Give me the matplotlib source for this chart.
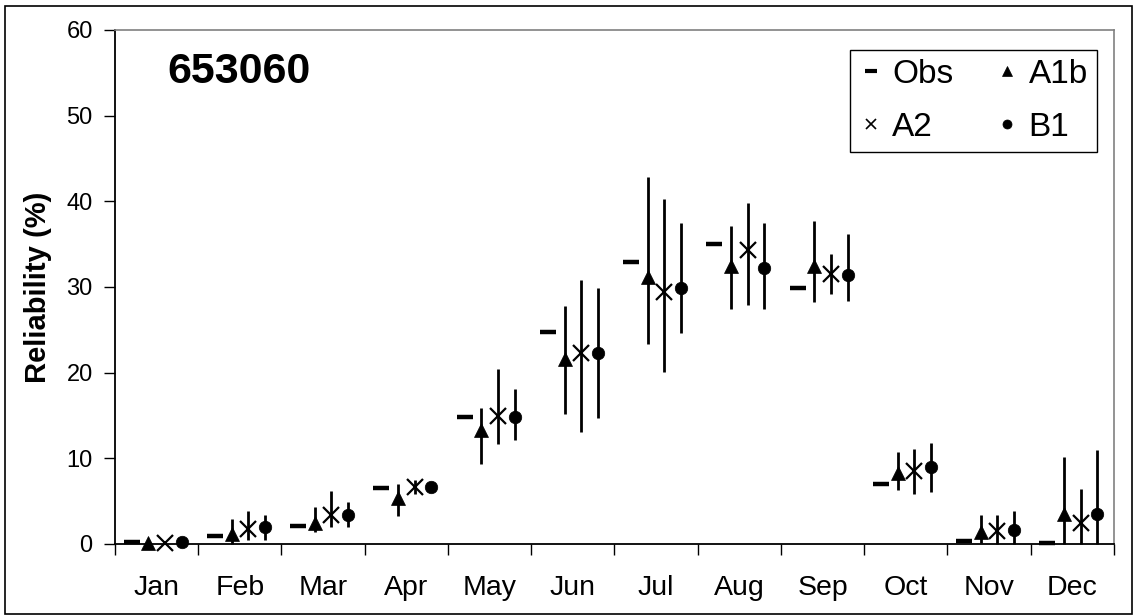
#!/usr/bin/env python3
"""Monthly reliability at station 653060: observed vs. A1b / A2 / B1 scenario ranges."""

import matplotlib
matplotlib.use("Agg")
import matplotlib.pyplot as plt
import numpy as np
from matplotlib.patches import Rectangle

plt.rcParams["font.family"] = ["Liberation Sans", "DejaVu Sans"]

STATION = "653060"
months = ["Jan", "Feb", "Mar", "Apr", "May", "Jun",
          "Jul", "Aug", "Sep", "Oct", "Nov", "Dec"]

obs = [0.2, 0.9, 2.1, 6.5, 14.8, 24.8, 32.9, 35.0, 29.9, 7.0, 0.35, 0.1]

a1b_mean = [0.1, 1.2, 2.5, 5.4, 13.3, 21.6, 31.2, 32.4, 32.4, 8.3, 1.4, 3.5]
a1b_low = [0.1, 0.0, 1.4, 3.3, 9.3, 15.2, 23.3, 27.4, 28.2, 6.3, 0.1, 0.0]
a1b_high = [0.1, 2.9, 4.3, 7.0, 15.9, 27.8, 42.8, 37.1, 37.7, 10.7, 3.4, 10.2]

a2_mean = [0.1, 1.7, 3.4, 6.6, 14.9, 22.3, 29.4, 34.3, 31.5, 8.5, 1.5, 2.4]
a2_low = [0.1, 0.5, 2.0, 5.8, 11.7, 13.1, 20.1, 27.9, 29.2, 5.8, 0.0, 0.0]
a2_high = [0.1, 3.8, 6.2, 7.5, 20.4, 30.8, 40.3, 39.8, 33.8, 11.1, 3.4, 6.4]

b1_mean = [0.2, 2.0, 3.4, 6.7, 14.8, 22.3, 29.9, 32.2, 31.4, 9.0, 1.6, 3.5]
b1_low = [0.2, 0.5, 2.0, 6.7, 12.1, 14.7, 24.6, 27.4, 28.4, 6.1, 0.0, 0.0]
b1_high = [0.2, 3.4, 4.9, 6.7, 18.1, 29.9, 37.5, 37.5, 36.2, 11.8, 3.9, 11.0]


def main():
    x = np.arange(len(months))

    fig = plt.figure(figsize=(11.36, 6.16), dpi=100)
    ax = fig.add_axes([0.1012, 0.1169, 0.8794, 0.8344])

    # outer chart frame
    fig.patches.append(Rectangle((0.0044, 0.0032), 0.9921, 0.9870,
                                 transform=fig.transFigure, fill=False,
                                 edgecolor="black", linewidth=1.2))

    scen = [
        ("A1b", -0.1, a1b_mean, a1b_low, a1b_high,
         dict(marker="^", markersize=10.5, markeredgewidth=0.5)),
        ("A2", 0.1, a2_mean, a2_low, a2_high,
         dict(marker="x", markersize=11, markeredgewidth=1.6)),
        ("B1", 0.3, b1_mean, b1_low, b1_high,
         dict(marker="o", markersize=9, markeredgewidth=0.5)),
    ]

    handles = {}
    h, = ax.plot(x - 0.3, obs, linestyle="none", marker="_", markersize=11,
                 markeredgewidth=3.2, color="black", label="Obs", clip_on=False)
    handles["Obs"] = h

    for name, off, mean, low, high, mstyle in scen:
        mean = np.array(mean)
        yerr = [mean - np.array(low), np.array(high) - mean]
        ax.errorbar(x + off, mean, yerr=yerr, fmt="none", ecolor="black",
                    elinewidth=2, capsize=0, clip_on=False)
        h, = ax.plot(x + off, mean, linestyle="none", color="black",
                     label=name, clip_on=False, **mstyle)
        handles[name] = h

    ax.set_xlim(-0.5, len(months) - 0.5)
    ax.set_ylim(0, 60)
    ax.set_yticks(range(0, 61, 10))
    ax.tick_params(axis="y", direction="out", length=8, width=1,
                   labelsize=17, pad=8)

    # month names at the centres, tick marks at the boundaries
    ax.set_xticks(x)
    ax.set_xticklabels(months)
    ax.tick_params(axis="x", which="major", length=0, labelsize=20.5, pad=22)
    ax.set_xticks(np.arange(len(months) + 1) - 0.5, minor=True)
    ax.tick_params(axis="x", which="minor", direction="out", length=8, width=1)

    for side in ("top", "right"):
        ax.spines[side].set_color("#808080")
        ax.spines[side].set_linewidth(1.2)
    for side in ("left", "bottom"):
        ax.spines[side].set_color("black")
        ax.spines[side].set_linewidth(1.3)

    ax.set_ylabel("Reliability (%)", fontsize=21, fontweight="bold", labelpad=10)

    ax.text(0.052, 0.918, STATION, transform=ax.transAxes, fontsize=31,
            fontweight="bold", ha="left", va="center")

    order = ["Obs", "A2", "A1b", "B1"]
    leg = ax.legend([handles[k] for k in order], order, ncol=2,
                    loc="upper left", bbox_to_anchor=(0.7357, 0.961),
                    borderaxespad=0, fontsize=24, frameon=True, fancybox=False,
                    edgecolor="black", framealpha=1, handlelength=0.7,
                    handletextpad=0.3, columnspacing=1.25, labelspacing=0.65,
                    borderpad=0.27)
    leg.get_frame().set_linewidth(1)
    small = {"Obs": (8.5, 3.0), "A2": (7, 1.2), "A1b": (7, 0.5), "B1": (6.5, 0.5)}
    for lh, name in zip(leg.legend_handles, order):
        ms, mew = small[name]
        lh.set_markersize(ms)
        lh.set_markeredgewidth(mew)

    fig.savefig("out.png", dpi=100, facecolor="white")


if __name__ == "__main__":
    main()
